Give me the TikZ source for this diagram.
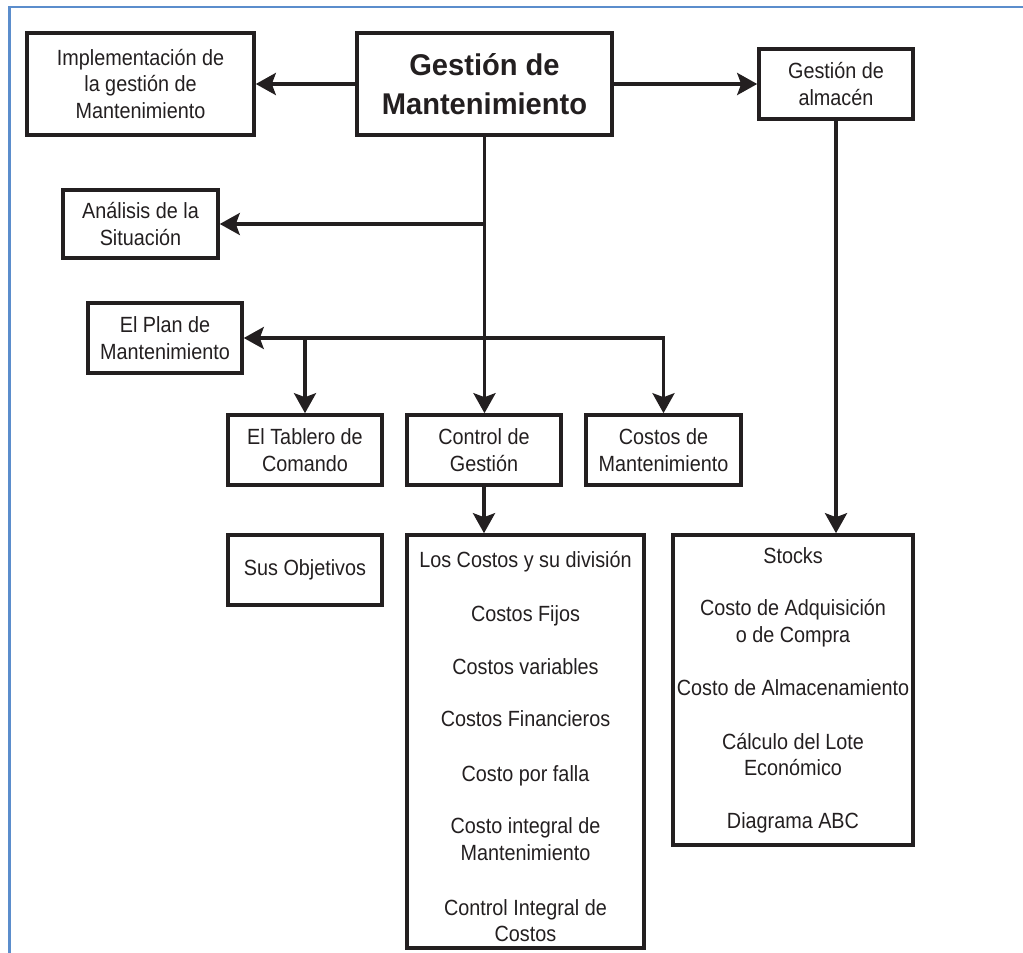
\documentclass[tikz,border=0pt]{standalone}
\usepackage{fontspec}
\setmainfont{Liberation Sans}[FakeStretch=0.9, BoldFeatures={FakeStretch=0.97}]
\usetikzlibrary{arrows.meta}
\definecolor{ink}{HTML}{231F20}
\definecolor{framecol}{RGB}{91,141,204}
\begin{document}
\begin{tikzpicture}[x=1pt,y=-1pt,line join=miter,
  box/.style={draw=ink, line width=3.6pt, text=ink, align=center, inner sep=0pt,
    font=\fontsize{22}{26.5}\selectfont},
  bigbox/.style={box, font=\fontsize{30}{39}\selectfont\bfseries},
  arr/.style={draw=ink, line width=3.6pt, -{Stealth[length=20pt,width=22pt,inset=4pt]}},
  thinarr/.style={arr, line width=3.2pt},
  item/.style={text=ink, anchor=base, inner sep=0pt, font=\fontsize{22}{26.5}\selectfont}]
\useasboundingbox (0,0) rectangle (1023,953);
% blue frame
\draw[framecol, line width=2.5pt] (9.5,953) -- (9.5,7) -- (1023,7);

% top row
\node[box, minimum width=227, minimum height=102] (impl) at (140.5,84)
  {Implementación de\\la gestión de\\Mantenimiento};
\node[bigbox, minimum width=255, minimum height=102] (main) at (484.5,84)
  {Gestión de\\Mantenimiento};
\node[box, minimum width=154, minimum height=70] (almacen) at (836,84)
  {Gestión de\\almacén};

\node[box, minimum width=155, minimum height=68] (analisis) at (140.5,224)
  {Análisis de la\\Situación};
\node[box, minimum width=154, minimum height=70] (plan) at (165,338)
  {El Plan de\\Mantenimiento};

\node[box, minimum width=154, minimum height=70] (tablero) at (305,450)
  {El Tablero de\\Comando};
\node[box, minimum width=154, minimum height=70] (control) at (484,450)
  {Control de\\Gestión};
\node[box, minimum width=155, minimum height=70] (costosm) at (663.5,450)
  {Costos de\\Mantenimiento};

\node[box, minimum width=154, minimum height=70] (sus) at (305,570)
  {Sus Objetivos};

\node[box, minimum width=237, minimum height=413] (costos) at (525.5,741.5) {};
\node[box, minimum width=240, minimum height=310] (stocks) at (793,690) {};

% list in costos
\node[item] (c1) at (525.5,567) {Los Costos y su división};
\node[item] (c2) at (525.5,621) {Costos Fijos};
\node[item] (c3) at (525.5,674) {Costos variables};
\node[item] (c4) at (525.5,726) {Costos Financieros};
\node[item] (c5) at (525.5,781) {Costo por falla};
\node[item] (c6) at (525.5,833) {Costo integral de};
\node[item] (c7) at (525.5,860) {Mantenimiento};
\node[item] (c8) at (525.5,915) {Control Integral de};
\node[item] (c9) at (525.5,941) {Costos};

% list in stocks
\node[item] (s1) at (793,563) {Stocks};
\node[item] (s2) at (793,615) {Costo de Adquisición};
\node[item] (s3) at (793,642) {o de Compra};
\node[item] (s4) at (793,695) {Costo de Almacenamiento};
\node[item] (s5) at (793,749) {Cálculo del Lote};
\node[item] (s6) at (793,775) {Económico};
\node[item] (s7) at (793,828) {Diagrama ABC};

% connectors
\draw[arr] (main.west) -- (impl.east);
\draw[arr] (main.east) -- (almacen.west);
\draw[arr] (main.south) -- (main.south |- control.north);
\coordinate (j1) at (main.south |- analisis.east);
\draw[thinarr] (j1) -- (analisis.east);
\coordinate (j3) at (costosm.north |- plan.east);
\draw[thinarr, {Stealth[length=20pt,width=22pt,inset=4pt]}-{Stealth[length=20pt,width=22pt,inset=4pt]}]
  (plan.east) -- (j3) -- (costosm.north);
\coordinate (j2) at (tablero.north |- plan.east);
\draw[thinarr] (j2) -- (tablero.north);
\draw[arr] (control.south) -- (control.south |- costos.north);
\draw[arr] (almacen.south) -- (almacen.south |- stocks.north);
\end{tikzpicture}
\end{document}
